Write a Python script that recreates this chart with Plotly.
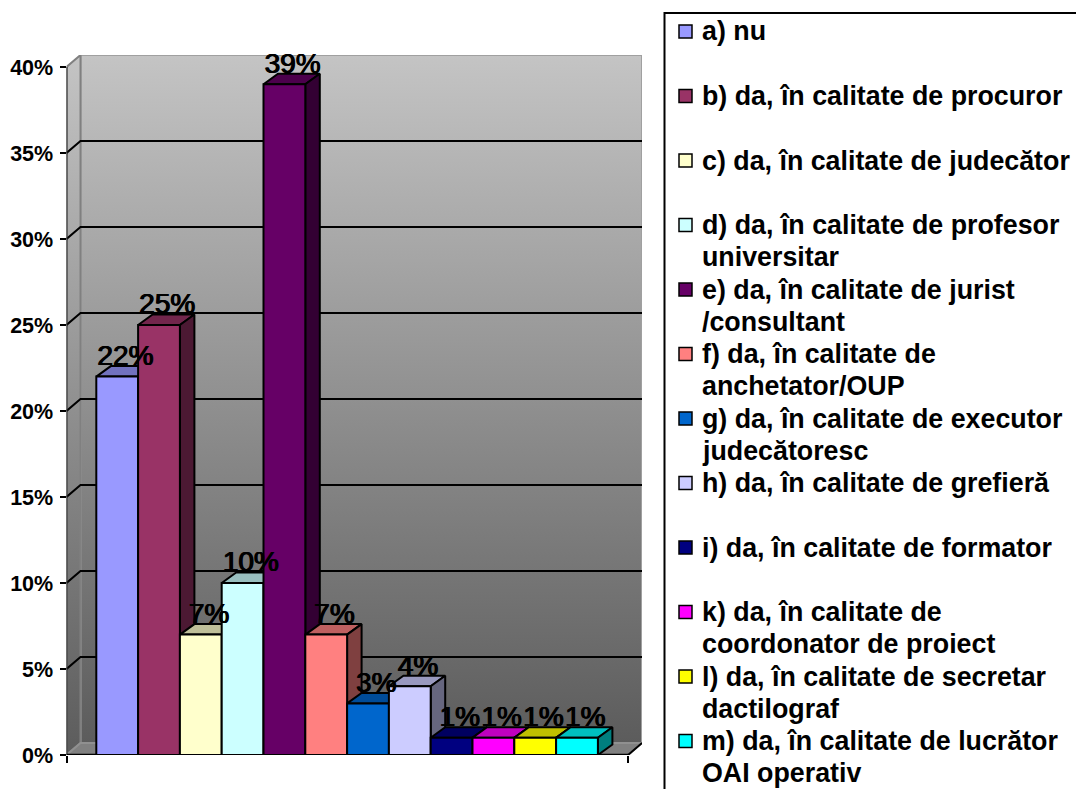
import plotly.graph_objects as go

# ---------- data ----------
categories = [
    "a) nu",
    "b) da, în calitate de procuror",
    "c) da, în calitate de judecător",
    "d) da, în calitate de profesor<br>universitar",
    "e) da, în calitate de jurist<br>/consultant",
    "f) da, în calitate de<br>anchetator/OUP",
    "g) da, în calitate de executor<br>judecătoresc",
    "h) da, în calitate de grefieră",
    "i) da, în calitate de formator",
    "k) da, în calitate de<br>coordonator de proiect",
    "l) da, în calitate de secretar<br>dactilograf",
    "m) da, în calitate de lucrător<br>OAI operativ",
]
values = [22, 25, 7, 10, 39, 7, 3, 4, 1, 1, 1, 1]
colors = ["#9999FF", "#993366", "#FFFFCC", "#CCFFFF", "#660066", "#FF8080",
          "#0066CC", "#CCCCFF", "#000080", "#FF00FF", "#FFFF00", "#00FFFF"]
y_ticks = [0, 5, 10, 15, 20, 25, 30, 35, 40]

# ---------- layout constants (pixels of the 1076x789 page) ----------
W, H = 1076, 789
PX_LEFT, PX_RIGHT, PX_FRONT_RIGHT = 66.5, 642.0, 628.0
PX_ZERO, PX_TOP = 755.0, 55.0
PX_PER_PCT, PX_PER_CAT, PX_FIRST = 17.2, 41.8, 117.2
FONT = "Liberation Sans"

x_lo = (PX_LEFT - PX_FIRST) / PX_PER_CAT
x_hi = (PX_RIGHT - PX_FIRST) / PX_PER_CAT
x_front = (PX_FRONT_RIGHT - PX_FIRST) / PX_PER_CAT
y_hi = (PX_ZERO - PX_TOP) / PX_PER_PCT
wall_dx, wall_dy = (x_hi - x_front), 12 / PX_PER_PCT
bar_dx, bar_dy = 14.5 / PX_PER_CAT, 10.5 / PX_PER_PCT
label_dx = bar_dx / 2 + 1.0 / PX_PER_CAT


def shade(hex_color, k):
    r, g, b = (int(hex_color[i:i + 2], 16) for i in (1, 3, 5))
    return f"rgb({int(r * k)},{int(g * k)},{int(b * k)})"


def poly(xs, ys, fill=None, line="black", lw=2, gradient=None):
    kw = dict(fillgradient=gradient) if gradient else dict(fillcolor=fill)
    return go.Scatter(x=xs + xs[:1], y=ys + ys[:1], mode="lines", fill="toself",
                      line=dict(color=line, width=lw), hoverinfo="skip",
                      showlegend=False, cliponaxis=False, **kw)


def seg(xs, ys, color="black", lw=2):
    return go.Scatter(x=xs, y=ys, mode="lines", line=dict(color=color, width=lw),
                      hoverinfo="skip", showlegend=False, cliponaxis=False)


fig = go.Figure()
wall_scale = [[0, "#5c5c5c"], [1, "#c4c4c4"]]
wx0 = x_lo + wall_dx
# back wall, side wall, floor
fig.add_trace(poly([wx0, x_hi, x_hi, wx0], [wall_dy, wall_dy, y_hi, y_hi], line="#a0a0a0",
                   gradient=dict(type="vertical", colorscale=wall_scale)))
fig.add_trace(poly([x_lo, wx0, wx0, x_lo], [0, wall_dy, y_hi, y_hi - wall_dy], line="#808080",
                   gradient=dict(type="vertical", colorscale=wall_scale)))
fig.add_trace(poly([x_lo, x_front, x_hi, wx0], [0, 0, wall_dy, wall_dy], fill="#808080", line="#909090"))

# gridlines on the back wall and their diagonals on the side wall
for t in y_ticks[1:-1]:
    fig.add_trace(seg([x_lo, wx0, x_hi], [t, t + wall_dy, t + wall_dy]))
fig.add_trace(seg([x_front, x_hi], [0, wall_dy]))
fig.add_trace(seg([x_lo, x_lo], [0, y_ticks[-1]], color="#303030"))
fig.add_trace(seg([x_lo, x_front], [0, 0], lw=2.5))

# tops and sides of the bars, left to right
for i, (v, c) in enumerate(zip(values, colors)):
    l, r = i - 0.5, i + 0.5
    fig.add_trace(poly([l, r, r + bar_dx, l + bar_dx], [v, v, v + bar_dy, v + bar_dy], fill=shade(c, 0.75)))
    fig.add_trace(poly([r, r + bar_dx, r + bar_dx, r], [0, bar_dy, v + bar_dy, v], fill=shade(c, 0.5)))

# front faces on an overlay so they hide the sides behind them
fig.add_trace(go.Bar(x=list(range(len(values))), y=values, width=1, xaxis="x2", yaxis="y2",
                     marker=dict(color=colors, line=dict(color="black", width=2)),
                     hovertext=categories, hoverinfo="text+y", showlegend=False, cliponaxis=False))
fig.add_trace(go.Scatter(x=[i + label_dx for i in range(len(values))], y=[v + 0.27 for v in values],
                         text=[f"{v}%" for v in values], mode="text", textposition="top center",
                         textfont=dict(family=FONT, size=28, color="black",
                                       shadow="0.6px 0 0 black, -0.6px 0 0 black"),
                         xaxis="x2", yaxis="y2", hoverinfo="skip", showlegend=False, cliponaxis=False))

# legend box, swatches and text
shapes = [dict(type="rect", xref="paper", yref="paper", x0=664.5 / W, x1=1.1, y0=1 - 13 / H, y1=-0.1,
               line=dict(color="black", width=2), fillcolor="rgba(0,0,0,0)")]
annotations = []
ROW0, ROW_STEP, LINE_STEP = 31.5, 64.5, 32.0
for k, (label, c) in enumerate(zip(categories, colors)):
    yc = ROW0 + k * ROW_STEP
    shapes.append(dict(type="rect", xref="paper", yref="paper",
                       x0=679 / W, x1=692 / W, y0=1 - (yc - 6.5) / H, y1=1 - (yc + 6.5) / H,
                       fillcolor=c, line=dict(color="black", width=1.5)))
    for j, part in enumerate(label.split("<br>")):
        annotations.append(dict(xref="paper", yref="paper", x=701 / W, y=1 - (yc + j * LINE_STEP) / H,
                                xanchor="left", yanchor="middle", showarrow=False, text=f"<b>{part}</b>",
                                align="left", font=dict(family=FONT, size=26.8, color="black"),
                                borderpad=0, bgcolor="rgba(0,0,0,0)"))

x_dom = [PX_LEFT / W, PX_RIGHT / W]
y_dom = [1 - PX_ZERO / H, 1 - PX_TOP / H]
fig.update_layout(
    width=W, height=H, autosize=False, margin=dict(l=0, r=0, t=0, b=0),
    paper_bgcolor="white", plot_bgcolor="rgba(0,0,0,0)", barmode="overlay",
    showlegend=False, shapes=shapes, annotations=annotations,
    xaxis=dict(domain=x_dom, range=[x_lo, x_hi], tickmode="array", tickvals=[x_lo, x_front], ticktext=["", ""],
               ticks="outside", ticklen=7, tickwidth=1.5, tickcolor="black", automargin=False,
               showgrid=False, zeroline=False, showline=False),
    yaxis=dict(domain=y_dom, range=[0, y_hi], tickmode="array", tickvals=y_ticks,
               ticktext=[f"{t}%" for t in y_ticks], ticks="outside", ticklen=6, tickwidth=2, tickcolor="black",
               tickfont=dict(family=FONT, size=21.5, color="black", weight="bold"), ticklabelstandoff=2,
               automargin=False, showgrid=False, zeroline=False, showline=False),
    xaxis2=dict(domain=x_dom, range=[x_lo, x_hi], overlaying="x", anchor="y2", visible=False),
    yaxis2=dict(domain=y_dom, range=[0, y_hi], overlaying="y", anchor="x2", visible=False),
)

fig.write_html("out.html", config=dict(displayModeBar=False),
               post_script="document.body.style.margin='0';document.body.style.overflow='hidden';")
